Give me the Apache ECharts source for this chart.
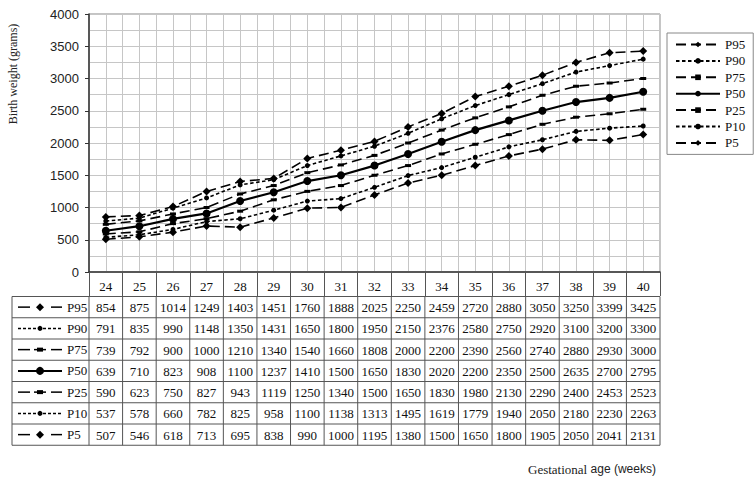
<!DOCTYPE html>
<html>
<head>
<meta charset="utf-8">
<script src="https://cdn.jsdelivr.net/npm/echarts@6/dist/echarts.min.js"></script>
<style>
html, body { margin: 0; padding: 0; background: #fff; }
#chart { width: 756px; height: 482px; }
</style>
</head>
<body>
<div id="chart"></div>
<script>
const weeks = ['24', '25', '26', '27', '28', '29', '30', '31', '32', '33', '34', '35', '36', '37', '38', '39', '40']
const p95 = [854, 875, 1014, 1249, 1403, 1451, 1760, 1888, 2025, 2250, 2459, 2720, 2880, 3050, 3250, 3399, 3425]
const p90 = [791, 835, 990, 1148, 1350, 1431, 1650, 1800, 1950, 2150, 2376, 2580, 2750, 2920, 3100, 3200, 3300]
const p75 = [739, 792, 900, 1000, 1210, 1340, 1540, 1660, 1808, 2000, 2200, 2390, 2560, 2740, 2880, 2930, 3000]
const p50 = [639, 710, 823, 908, 1100, 1237, 1410, 1500, 1650, 1830, 2020, 2200, 2350, 2500, 2635, 2700, 2795]
const p25 = [590, 623, 750, 827, 943, 1119, 1250, 1340, 1500, 1650, 1830, 1980, 2130, 2290, 2400, 2453, 2523]
const p10 = [537, 578, 660, 782, 825, 958, 1100, 1138, 1313, 1495, 1619, 1779, 1940, 2050, 2180, 2230, 2263]
const p5 = [507, 546, 618, 713, 695, 838, 990, 1000, 1195, 1380, 1500, 1650, 1800, 1905, 2050, 2041, 2131]

const names = ['P95', 'P90', 'P75', 'P50', 'P25', 'P10', 'P5']
const rows = [p95, p90, p75, p50, p25, p10, p5]

// line look per percentile
const LONG = [10, 5]
const SHORT = [3.5, 2.5]
const looks = [
  { dash: LONG, width: 1.6, symbol: 'diamond', size: 8 },
  { dash: SHORT, width: 1.6, symbol: 'circle', size: 5 },
  { dash: LONG, width: 1.6, symbol: 'rect', size: [6, 3] },
  { dash: 'solid', width: 2.2, symbol: 'circle', size: 8 },
  { dash: LONG, width: 1.6, symbol: 'rect', size: [6, 3] },
  { dash: SHORT, width: 1.6, symbol: 'circle', size: 5 },
  { dash: LONG, width: 1.6, symbol: 'diamond', size: 8 }
]

const SERIF = '"Liberation Serif", "Times New Roman", serif'
const SANS = '"Liberation Sans", Arial, sans-serif'
const GRID_COLOR = '#c6c6c6'

const chart = echarts.init(document.getElementById('chart'), null, { renderer: 'svg' })

const option = {
  animation: false,
  backgroundColor: '#fff',
  grid: {
    left: 89, right: 96, top: 14, bottom: 210,
    show: true, borderColor: '#888', borderWidth: 1
  },
  legend: {
    orient: 'vertical',
    left: 667, top: 33,
    padding: [5, 8, 5, 8],
    itemWidth: 44, itemHeight: 7, itemGap: 3.4,
    borderColor: '#888', borderWidth: 1, borderRadius: 0,
    data: names,
    textStyle: { fontFamily: SERIF, fontSize: 13, color: '#111' }
  },
  xAxis: [
    {
      type: 'category',
      data: weeks,
      boundaryGap: true,
      axisLine: { lineStyle: { color: '#333', width: 1.5 } },
      axisTick: { show: true, length: 24, interval: 0, lineStyle: { color: '#555' } },
      axisLabel: { interval: 0, margin: 8, fontFamily: SERIF, fontSize: 13, color: '#111' },
      splitLine: { show: false }
    },
    {
      // half-week grid lines
      type: 'value',
      position: 'top',
      min: 23.5, max: 40.5, interval: 0.5,
      axisLine: { show: false },
      axisTick: { show: false },
      axisLabel: { show: false },
      splitLine: { show: true, lineStyle: { color: GRID_COLOR, width: 1 } }
    }
  ],
  yAxis: {
    type: 'value',
    min: 0, max: 4000, interval: 500,
    axisLine: { show: true, lineStyle: { color: '#333', width: 1.5 } },
    axisTick: { show: true, length: 4, lineStyle: { color: '#333' } },
    axisLabel: { margin: 10, fontFamily: SANS, fontSize: 13, color: '#222', formatter: v => String(v) },
    splitLine: { lineStyle: { color: GRID_COLOR, width: 1 } },
    minorTick: { show: false, splitNumber: 2 },
    minorSplitLine: { show: true, lineStyle: { color: GRID_COLOR, width: 1 } }
  },
  series: names.map((n, i) => ({
    name: n,
    type: 'line',
    data: rows[i],
    symbol: looks[i].symbol,
    symbolSize: looks[i].size,
    showAllSymbol: true,
    itemStyle: { color: '#000' },
    lineStyle: { color: '#000', width: looks[i].width, type: looks[i].dash },
    z: 3
  }))
}

chart.setOption(option)

// data table under the axis, aligned with the category bands
function buildTable() {
  const c0 = chart.convertToPixel({ xAxisIndex: 0 }, weeks[0])
  const c1 = chart.convertToPixel({ xAxisIndex: 0 }, weeks[1])
  const step = c1 - c0
  const left = 12
  const plotLeft = c0 - step / 2
  const plotRight = plotLeft + step * weeks.length
  const top = 296.5
  const rowH = 21.25
  const bottom = top + rowH * rows.length
  const els = []
  const lineCol = '#555'

  for (let r = 0; r <= rows.length; r++) {
    const y = top + r * rowH
    els.push({ type: 'line', shape: { x1: left, y1: y, x2: plotRight, y2: y }, style: { stroke: lineCol, lineWidth: 1 } })
  }
  els.push({ type: 'line', shape: { x1: left, y1: top, x2: left, y2: bottom }, style: { stroke: lineCol, lineWidth: 1 } })
  for (let k = 0; k <= weeks.length; k++) {
    const x = plotLeft + k * step
    els.push({ type: 'line', shape: { x1: x, y1: top, x2: x, y2: bottom }, style: { stroke: lineCol, lineWidth: 1 } })
  }

  rows.forEach((vals, r) => {
    const cy = top + r * rowH + rowH / 2
    const lk = looks[r]
    // key sample: line + marker + name
    if (lk.dash === 'solid') {
      els.push({ type: 'line', shape: { x1: 18, y1: cy, x2: 62, y2: cy }, style: { stroke: '#000', lineWidth: 2 } })
    } else if (lk.dash === SHORT) {
      els.push({ type: 'line', shape: { x1: 18, y1: cy, x2: 62, y2: cy }, style: { stroke: '#000', lineWidth: 1.5, lineDash: [3, 2] } })
    } else {
      els.push({ type: 'line', shape: { x1: 18, y1: cy, x2: 30, y2: cy }, style: { stroke: '#000', lineWidth: 1.5 } })
      els.push({ type: 'line', shape: { x1: 51, y1: cy, x2: 62, y2: cy }, style: { stroke: '#000', lineWidth: 1.5 } })
      if (lk.symbol === 'rect') {
        els.push({ type: 'line', shape: { x1: 34, y1: cy, x2: 46, y2: cy }, style: { stroke: '#000', lineWidth: 1.5 } })
      }
    }
    if (lk.symbol === 'diamond') {
      els.push({ type: 'polygon', shape: { points: [[40, cy - 4], [44, cy], [40, cy + 4], [36, cy]] }, style: { fill: '#000' } })
    } else if (lk.symbol === 'circle') {
      els.push({ type: 'circle', shape: { cx: 40, cy: cy, r: lk.size / 2 }, style: { fill: '#000' } })
    } else {
      els.push({ type: 'rect', shape: { x: 37, y: cy - 2, width: 6, height: 4 }, style: { fill: '#000' } })
    }
    els.push({ type: 'text', x: 67, y: cy, style: { text: names[r], font: '13px ' + SERIF, fill: '#111', align: 'left', verticalAlign: 'middle' } })

    vals.forEach((v, k) => {
      els.push({ type: 'text', x: plotLeft + (k + 0.5) * step, y: cy + 0.5, style: { text: String(v), font: '13px ' + SERIF, fill: '#111', align: 'center', verticalAlign: 'middle' } })
    })
  })

  // axis titles
  els.push({
    type: 'text', x: 13, y: 74, rotation: Math.PI / 2,
    style: { text: 'Birth weight (grams)', font: '12px ' + SERIF, fill: '#222', align: 'center', verticalAlign: 'middle' }
  })
  els.push({
    type: 'text', x: 528, y: 469,
    style: {
      text: '{a|Gestational} {b|age (weeks)}',
      verticalAlign: 'middle',
      rich: {
        a: { fontFamily: SERIF, fontSize: 13, fill: '#222' },
        b: { fontFamily: SANS, fontSize: 12, fill: '#222' }
      }
    }
  })

  chart.setOption({ graphic: [{ type: 'group', children: els }] })
}

buildTable()
</script>
</body>
</html>
